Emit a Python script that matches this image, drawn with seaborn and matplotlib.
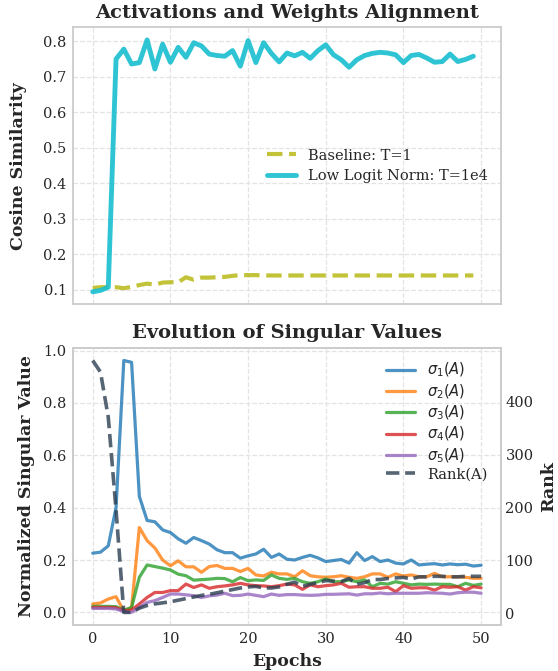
import matplotlib
matplotlib.use("Agg")
import matplotlib.pyplot as plt
import pandas as pd
import seaborn as sns

# ---- alignment between activations and weights ----
epochs_align = list(range(50))
baseline_t1 = [0.105, 0.107, 0.107, 0.107, 0.104, 0.108, 0.113, 0.117, 0.114, 0.120,
               0.121, 0.121, 0.135, 0.128, 0.134, 0.134, 0.135, 0.136, 0.139, 0.141,
               0.141, 0.141, 0.140, 0.140, 0.140, 0.140, 0.140, 0.140, 0.140, 0.140,
               0.140, 0.140, 0.140, 0.140, 0.140, 0.140, 0.140, 0.140, 0.140, 0.140,
               0.140, 0.140, 0.140, 0.140, 0.140, 0.140, 0.140, 0.140, 0.140, 0.140]
low_logit_norm = [0.094, 0.098, 0.107, 0.750, 0.778, 0.736, 0.740, 0.804, 0.722, 0.792,
                  0.741, 0.783, 0.755, 0.796, 0.787, 0.764, 0.760, 0.758, 0.774, 0.730,
                  0.802, 0.740, 0.796, 0.766, 0.742, 0.767, 0.759, 0.769, 0.752, 0.774,
                  0.790, 0.762, 0.748, 0.727, 0.748, 0.760, 0.766, 0.769, 0.767, 0.762,
                  0.740, 0.760, 0.763, 0.753, 0.741, 0.743, 0.764, 0.743, 0.749, 0.758]
align_labels = ["Baseline: T=1", "Low Logit Norm: T=1e4"]

# ---- singular value spectrum of A ----
epochs_sv = list(range(51))
sigma1 = [0.226, 0.230, 0.254, 0.400, 0.962, 0.955, 0.443, 0.351, 0.346, 0.315,
          0.305, 0.281, 0.264, 0.286, 0.274, 0.261, 0.239, 0.228, 0.228, 0.207,
          0.216, 0.223, 0.241, 0.210, 0.223, 0.203, 0.200, 0.210, 0.218, 0.208,
          0.194, 0.198, 0.202, 0.188, 0.228, 0.198, 0.213, 0.194, 0.200, 0.188,
          0.185, 0.200, 0.181, 0.184, 0.186, 0.181, 0.185, 0.182, 0.184, 0.177, 0.180]
sigma2 = [0.032, 0.036, 0.051, 0.060, 0.005, 0.018, 0.324, 0.274, 0.246, 0.200,
          0.178, 0.197, 0.174, 0.174, 0.153, 0.175, 0.179, 0.168, 0.168, 0.156,
          0.168, 0.143, 0.139, 0.153, 0.147, 0.147, 0.136, 0.159, 0.140, 0.136,
          0.134, 0.136, 0.140, 0.134, 0.130, 0.136, 0.147, 0.147, 0.134, 0.147,
          0.139, 0.143, 0.136, 0.136, 0.149, 0.136, 0.136, 0.136, 0.134, 0.130, 0.130]
sigma3 = [0.023, 0.023, 0.023, 0.022, 0.008, 0.019, 0.134, 0.181, 0.175, 0.169,
          0.162, 0.146, 0.140, 0.123, 0.125, 0.127, 0.130, 0.129, 0.117, 0.133,
          0.121, 0.124, 0.122, 0.143, 0.130, 0.126, 0.130, 0.117, 0.111, 0.117,
          0.128, 0.117, 0.117, 0.124, 0.117, 0.124, 0.098, 0.111, 0.108, 0.117,
          0.111, 0.105, 0.108, 0.107, 0.108, 0.107, 0.107, 0.098, 0.111, 0.103, 0.108]
sigma4 = [0.019, 0.019, 0.019, 0.018, 0.006, 0.009, 0.032, 0.057, 0.076, 0.076,
          0.083, 0.083, 0.108, 0.095, 0.105, 0.092, 0.098, 0.101, 0.105, 0.111,
          0.105, 0.102, 0.101, 0.098, 0.102, 0.108, 0.105, 0.088, 0.105, 0.098,
          0.102, 0.105, 0.111, 0.096, 0.098, 0.098, 0.092, 0.092, 0.096, 0.079,
          0.102, 0.092, 0.094, 0.094, 0.085, 0.098, 0.096, 0.098, 0.085, 0.098, 0.094]
sigma5 = [0.015, 0.015, 0.015, 0.013, 0.003, 0.000, 0.019, 0.038, 0.045, 0.057,
          0.070, 0.070, 0.067, 0.064, 0.057, 0.063, 0.066, 0.073, 0.064, 0.065,
          0.070, 0.065, 0.060, 0.070, 0.065, 0.068, 0.068, 0.066, 0.065, 0.066,
          0.069, 0.069, 0.070, 0.071, 0.066, 0.071, 0.071, 0.074, 0.071, 0.073,
          0.073, 0.073, 0.073, 0.075, 0.074, 0.073, 0.070, 0.075, 0.077, 0.077, 0.073]
rank_a = [477, 455, 370, 195, 2, 2, 10, 15, 18, 20,
          22, 25, 28, 31, 34, 36, 39, 42, 45, 48,
          50, 51, 48, 48, 50, 55, 59, 51, 55, 58,
          62, 61, 60, 66, 55, 58, 64, 64, 66, 67,
          68, 65, 69, 69, 70, 70, 69, 69, 70, 70, 70]
sigma_labels = [r"$\sigma_1(A)$", r"$\sigma_2(A)$", r"$\sigma_3(A)$",
                r"$\sigma_4(A)$", r"$\sigma_5(A)$"]
rank_label = "Rank(A)"

sns.set_theme(style="whitegrid")
plt.rcParams["font.family"] = ["DejaVu Serif"]
plt.rcParams["mathtext.fontset"] = "dejavusans"
plt.rcParams["axes.edgecolor"] = "#cccccc"
plt.rcParams["axes.linewidth"] = 1.3
plt.rcParams["grid.color"] = "#e3e3e3"
plt.rcParams["grid.linestyle"] = "--"
plt.rcParams["grid.linewidth"] = 0.9
plt.rcParams["text.color"] = "#262626"
plt.rcParams["axes.labelcolor"] = "#262626"
plt.rcParams["xtick.color"] = "#262626"
plt.rcParams["ytick.color"] = "#262626"

fig, (ax_top, ax_bot) = plt.subplots(2, 1, figsize=(5.58, 6.71), dpi=100, sharex=True)
fig.subplots_adjust(left=0.1314, right=0.897, top=0.9593, bottom=0.0686, hspace=0.157)

# top panel: cosine similarity
align_df = pd.DataFrame({"epoch": epochs_align,
                         "baseline": baseline_t1,
                         "low_norm": low_logit_norm})
sns.lineplot(data=align_df, x="epoch", y="baseline", ax=ax_top, color="#bcbd22",
             lw=3, linestyle="--", alpha=0.9, label=align_labels[0], legend=False)
sns.lineplot(data=align_df, x="epoch", y="low_norm", ax=ax_top, color="#17becf",
             lw=3.5, alpha=0.9, label=align_labels[1], legend=False)
ax_top.set_title("Activations and Weights Alignment", fontsize=14, fontweight="bold", pad=7)
ax_top.set_xlabel("")
ax_top.set_ylabel("Cosine Similarity", fontsize=12.5, fontweight="bold", labelpad=12)
ax_top.legend(loc="center right", frameon=False, fontsize=10.5, labelspacing=0.45)

# bottom panel: singular values and rank
sv_df = pd.DataFrame({"epoch": epochs_sv, "s1": sigma1, "s2": sigma2, "s3": sigma3,
                      "s4": sigma4, "s5": sigma5, "rank": rank_a})
sv_colors = ["#1f77b4", "#ff7f0e", "#2ca02c", "#d62728", "#9467bd"]
for col, color, lab in zip(["s1", "s2", "s3", "s4", "s5"], sv_colors, sigma_labels):
    sns.lineplot(data=sv_df, x="epoch", y=col, ax=ax_bot, color=color, lw=2.3,
                 alpha=0.8, label=lab, legend=False)

ax_rank = ax_bot.twinx()
sns.lineplot(data=sv_df, x="epoch", y="rank", ax=ax_rank, color="#2c3e50", lw=2.6,
             linestyle="--", alpha=0.8, label=rank_label, legend=False)
ax_rank.grid(False)
ax_rank.set_ylabel("Rank", fontsize=12.5, fontweight="bold", labelpad=5)
ax_rank.set_yticks([0, 100, 200, 300, 400])
ax_rank.tick_params(axis="y", length=0, pad=3.5, labelsize=10.5)

ax_bot.set_title("Evolution of Singular Values", fontsize=14, fontweight="bold", pad=7)
ax_bot.set_xlabel("Epochs", fontsize=12.5, fontweight="bold", labelpad=5)
ax_bot.set_ylabel("Normalized Singular Value", fontsize=12.5, fontweight="bold", labelpad=6)
ax_bot.set_xticks([0, 10, 20, 30, 40, 50])

for ax in (ax_top, ax_bot):
    ax.tick_params(axis="both", length=0, pad=4.8, labelsize=10.5)

h1, l1 = ax_bot.get_legend_handles_labels()
h2, l2 = ax_rank.get_legend_handles_labels()
ax_rank.legend(h1 + h2, l1 + l2, loc="upper right", frameon=False,
               fontsize=10.5, labelspacing=0.2)

fig.savefig("out.png", dpi=100)
